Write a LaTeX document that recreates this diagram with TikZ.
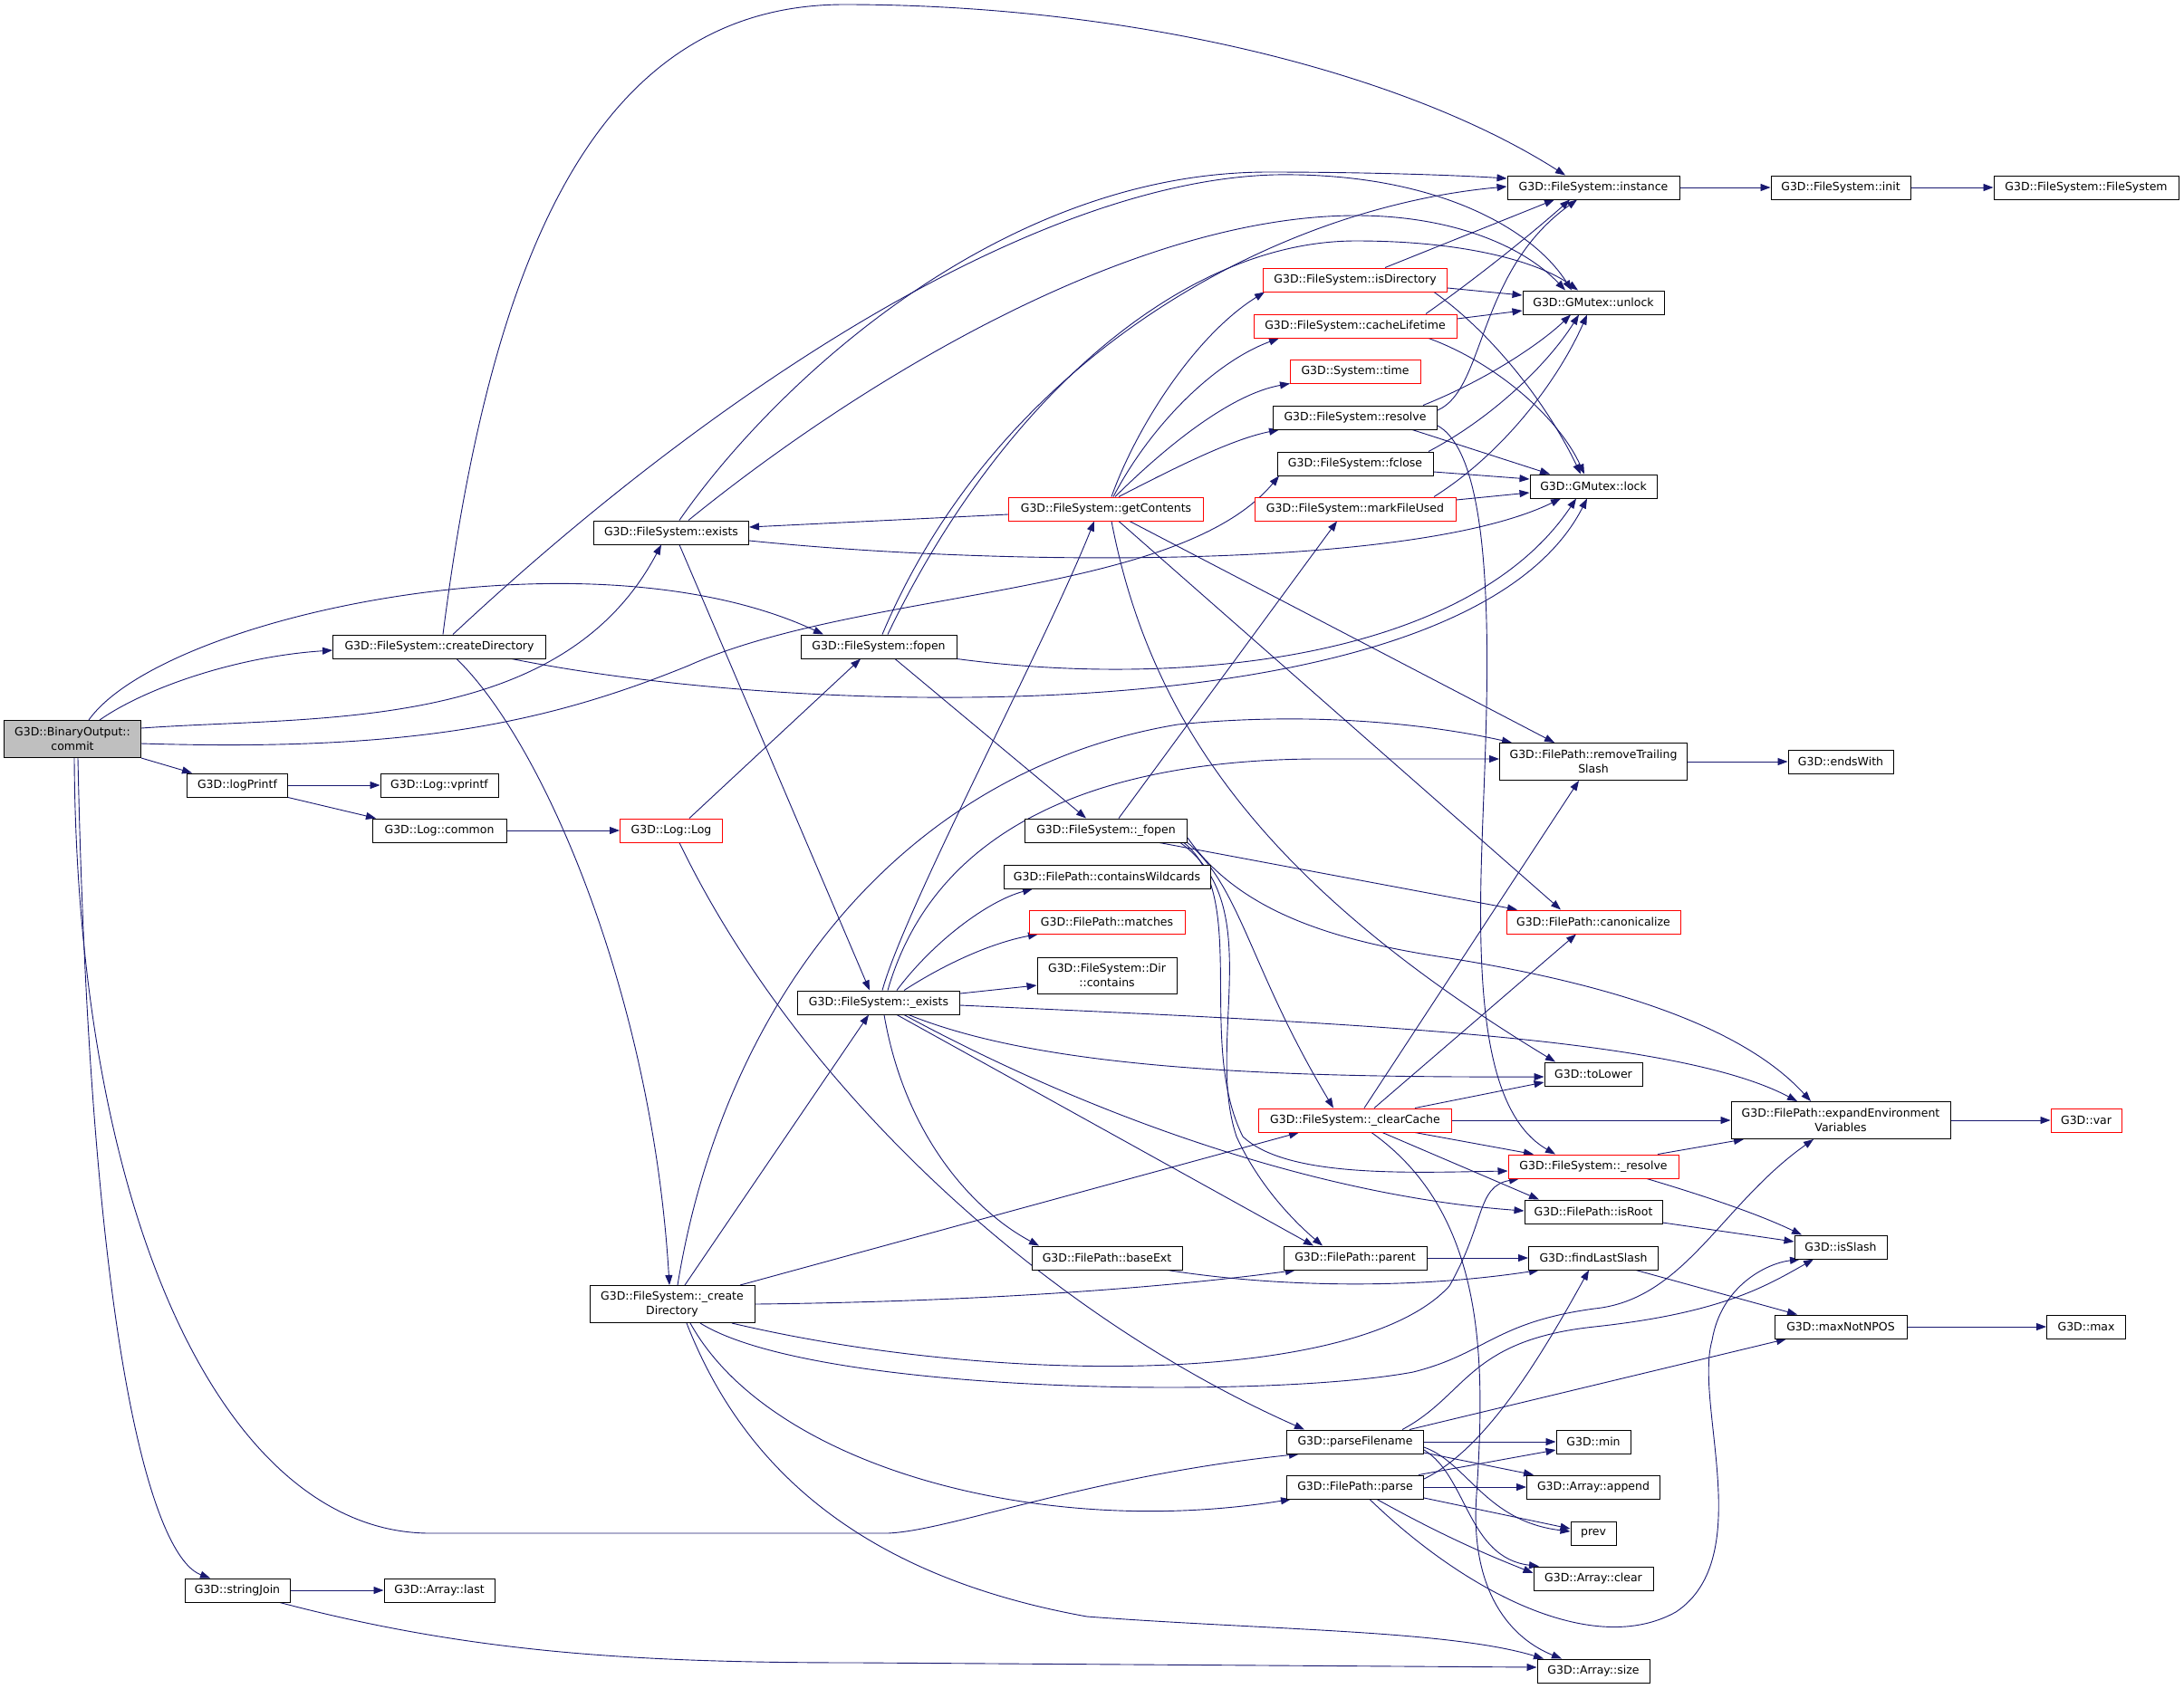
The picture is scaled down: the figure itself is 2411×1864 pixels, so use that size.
\documentclass[tikz,border=0pt]{standalone}
\usepackage{fontspec}
\setmainfont{DejaVu Sans}
\usetikzlibrary{arrows.meta,backgrounds}
\definecolor{edgeblue}{RGB}{25,25,112}
\definecolor{rootgray}{RGB}{191,191,191}
\tikzset{%
  fnode/.style = {shape=rectangle, draw=black, line width=1pt,%
                  minimum height=26pt, inner sep=0pt, align=center,%
                  fill=white, font=\fontsize{12.5}{15.5}\selectfont},%
  trunc/.style = {fnode, draw=red},%
  tall/.style  = {fnode, minimum height=41pt},%
  root/.style  = {tall, fill=rootgray},%
  call/.style  = {draw=edgeblue, line width=0.9pt,%
                  -{Triangle[length=11pt,width=8pt]}}%
}
\begin{document}
\begin{tikzpicture}[x=1pt, y=-1pt]
\useasboundingbox (0,0) rectangle (2411,1864);
% functions
\node[root,  minimum width=151] (commit)        at (80,816)    {G3D::BinaryOutput::\\commit};
\node[fnode, minimum width=235] (createDir)     at (485,714)   {G3D::FileSystem::createDirectory};
\node[fnode, minimum width=111] (logPrintf)     at (262,867)   {G3D::logPrintf};
\node[fnode, minimum width=130] (vprintf)       at (485,867)   {G3D::Log::vprintf};
\node[fnode, minimum width=148] (common)        at (485,917)   {G3D::Log::common};
\node[trunc, minimum width=113] (LogLog)        at (741,917)   {G3D::Log::Log};
\node[fnode, minimum width=116] (stringJoin)    at (262,1756)  {G3D::stringJoin};
\node[fnode, minimum width=122] (arrlast)       at (485,1756)  {G3D::Array::last};
\node[fnode, minimum width=171] (exists)        at (741,588)   {G3D::FileSystem::exists};
\node[fnode, minimum width=172] (fopen)         at (970,714)   {G3D::FileSystem::fopen};
\node[fnode, minimum width=179] (uexists)       at (970,1107)  {G3D::FileSystem::\_exists};
\node[tall,  minimum width=182] (ucreateDir)    at (742,1440)  {G3D::FileSystem::\_create\\Directory};
\node[trunc, minimum width=215] (getContents)   at (1221,562)  {G3D::FileSystem::getContents};
\node[trunc, minimum width=203] (isDirectory)   at (1496,309)  {G3D::FileSystem::isDirectory};
\node[trunc, minimum width=224] (cacheLifetime) at (1496,360)  {G3D::FileSystem::cacheLifetime};
\node[trunc, minimum width=144] (systime)       at (1496,410)  {G3D::System::time};
\node[fnode, minimum width=181] (resolve)       at (1496,461)  {G3D::FileSystem::resolve};
\node[fnode, minimum width=172] (fclose)        at (1496,512)  {G3D::FileSystem::fclose};
\node[trunc, minimum width=222] (markFileUsed)  at (1496,562)  {G3D::FileSystem::markFileUsed};
\node[fnode, minimum width=190] (instance)      at (1759,207)  {G3D::FileSystem::instance};
\node[fnode, minimum width=156] (unlock)        at (1759,334)  {G3D::GMutex::unlock};
\node[fnode, minimum width=140] (lock)          at (1759,537)  {G3D::GMutex::lock};
\node[fnode, minimum width=154] (init)          at (2032,207)  {G3D::FileSystem::init};
\node[fnode, minimum width=204] (fsctor)        at (2303,207)  {G3D::FileSystem::FileSystem};
\node[fnode, minimum width=179] (ufopen)        at (1221,917)  {G3D::FileSystem::\_fopen};
\node[fnode, minimum width=228] (containsWild)  at (1222,968)  {G3D::FilePath::containsWildcards};
\node[trunc, minimum width=172] (matches)       at (1222,1018) {G3D::FilePath::matches};
\node[fnode, minimum width=154, minimum height=40] (dirContains) at (1222,1077) {G3D::FileSystem::Dir\\::contains};
\node[tall,  minimum width=207] (trailing)      at (1759,841)  {G3D::FilePath::removeTrailing\\Slash};
\node[fnode, minimum width=116] (endsWith)      at (2032,841)  {G3D::endsWith};
\node[trunc, minimum width=192] (canonicalize)  at (1759,1018) {G3D::FilePath::canonicalize};
\node[fnode, minimum width=108] (toLower)       at (1759,1186) {G3D::toLower};
\node[trunc, minimum width=213] (uclearCache)   at (1496,1237) {G3D::FileSystem::\_clearCache};
\node[tall,  minimum width=242] (expandEnv)     at (2032,1237) {G3D::FilePath::expandEnvironment\\Variables};
\node[trunc, minimum width=78]  (var)           at (2303,1237) {G3D::var};
\node[trunc, minimum width=188] (uresolve)      at (1759,1288) {G3D::FileSystem::\_resolve};
\node[fnode, minimum width=152] (isRoot)        at (1759,1338) {G3D::FilePath::isRoot};
\node[fnode, minimum width=102] (isSlash)       at (2032,1377) {G3D::isSlash};
\node[fnode, minimum width=166] (baseExt)       at (1222,1389) {G3D::FilePath::baseExt};
\node[fnode, minimum width=158] (parent)        at (1496,1389) {G3D::FilePath::parent};
\node[fnode, minimum width=143] (findLastSlash) at (1759,1389) {G3D::findLastSlash};
\node[fnode, minimum width=146] (maxNotNPOS)    at (2032,1465) {G3D::maxNotNPOS};
\node[fnode, minimum width=87]  (max)           at (2303,1465) {G3D::max};
\node[fnode, minimum width=151] (parseFilename) at (1496,1592) {G3D::parseFilename};
\node[fnode, minimum width=151] (parse)         at (1496,1642) {G3D::FilePath::parse};
\node[fnode, minimum width=82]  (min)           at (1759,1592) {G3D::min};
\node[fnode, minimum width=147] (append)        at (1759,1642) {G3D::Array::append};
\node[fnode, minimum width=50]  (prev)          at (1759,1693) {prev};
\node[fnode, minimum width=132] (clear)         at (1759,1743) {G3D::Array::clear};
\node[fnode, minimum width=124] (size)          at (1759,1845) {G3D::Array::size};
\begin{scope}[on background layer]
% commit
\draw[call] ([xshift=30pt]commit.north) .. controls (160,760) and (260,725) .. ([yshift=-4pt]createDir.west);
\draw[call] ([xshift=18pt]commit.north) .. controls (180,680) and (650,580) .. ([xshift=-61pt]fopen.north);
\draw[call] ([yshift=12pt]commit.east) .. controls (350,790) and (620,810) .. ([xshift=-11pt]exists.south);
\draw[call] ([yshift=-5pt]commit.east) .. controls (450,830) and (600,800) .. (760,735) .. controls (950,650) and (1300,660) .. ([xshift=-84pt]fclose.south);
\draw[call] (commit.south east) -- ([xshift=-50pt]logPrintf.north);
\draw[call] ([xshift=2pt]commit.south) .. controls (85,1350) and (250,1693) .. (475,1693) -- (980,1693) .. controls (1050,1690) and (1200,1630) .. ([xshift=-62pt]parseFilename.south);
\draw[call] ([xshift=6pt]commit.south) .. controls (100,1500) and (170,1720) .. ([xshift=-30pt]stringJoin.north);
% createDirectory
\draw[call] ([xshift=4pt]createDir.north) .. controls (540,300) and (650,5) .. (932,5) .. controls (1250,5) and (1550,80) .. ([xshift=-31pt]instance.north);
\draw[call] ([xshift=15pt]createDir.north) .. controls (800,420) and (1150,200) .. (1407,193) .. controls (1580,190) and (1690,250) .. ([xshift=-24pt]unlock.north);
\draw[call] ([xshift=80pt]createDir.south) .. controls (900,795) and (1620,810) .. ([xshift=-7pt]lock.south);
\draw[call] ([xshift=19pt]createDir.south) .. controls (600,820) and (720,1100) .. ([xshift=-3pt]ucreateDir.north);
% exists
\draw[call] ([xshift=9pt]exists.north) .. controls (850,430) and (1100,190) .. (1400,190) .. controls (1500,190) and (1600,193) .. ([yshift=10pt]instance.west);
\draw[call] ([xshift=19pt]exists.north) .. controls (950,420) and (1250,238) .. (1497,238) .. controls (1600,238) and (1680,270) .. ([xshift=-31pt]unlock.north);
\draw[call] ([yshift=-9pt]exists.east) .. controls (1100,625) and (1560,630) .. ([xshift=-36pt]lock.south);
\draw[call] ([xshift=9pt]exists.south) -- ([xshift=-10pt]uexists.north);
% fopen
\draw[call] ([xshift=4pt]fopen.north) .. controls (1100,400) and (1400,230) .. ([yshift=1pt]instance.west);
\draw[call] ([xshift=10pt]fopen.north) .. controls (1100,450) and (1300,266) .. (1497,266) .. controls (1620,266) and (1700,290) .. ([xshift=-17pt]unlock.north);
\draw[call] (fopen.south east) .. controls (1300,760) and (1620,730) .. ([xshift=-19pt]lock.south);
\draw[call] ([xshift=18pt]fopen.south) -- ([xshift=-22pt]ufopen.north);
% logging
\draw[call] (logPrintf) -- (vprintf);
\draw[call] (logPrintf.south east) -- ([xshift=-70pt]common.north);
\draw[call] (common) -- (LogLog);
\draw[call] ([xshift=20pt]LogLog.north) -- ([xshift=-20pt]fopen.south);
\draw[call] ([xshift=9pt]LogLog.south) .. controls (880,1200) and (1150,1450) .. ([xshift=-56pt]parseFilename.north);
\draw[call] (stringJoin) -- (arrlast);
\draw[call] ([xshift=47pt]stringJoin.south) .. controls (520,1825) and (700,1836) .. (950,1836) -- ([yshift=4pt]size.west);
% getContents
\draw[call] ([yshift=-6pt]getContents.west) -- ([yshift=6pt]exists.east);
\draw[call] ([xshift=6pt]getContents.north) .. controls (1255,470) and (1320,370) .. ([xshift=-100pt]isDirectory.south);
\draw[call] ([xshift=8pt]getContents.north) .. controls (1270,470) and (1340,400) .. ([xshift=-84pt]cacheLifetime.south);
\draw[call] ([xshift=10pt]getContents.north) .. controls (1290,490) and (1360,435) .. ([xshift=-72pt]systime.south);
\draw[call] ([xshift=14pt]getContents.north) .. controls (1300,515) and (1360,485) .. ([xshift=-84pt]resolve.south);
\draw[call] ([xshift=26pt]getContents.south) -- ([xshift=-43pt]trailing.north);
\draw[call] ([xshift=14pt]getContents.south) -- ([xshift=-36pt]canonicalize.north);
\draw[call] ([xshift=6pt]getContents.south) .. controls (1270,800) and (1400,980) .. ([xshift=-42pt]toLower.north);
% mutex users
\draw[call] ([xshift=33pt]isDirectory.north) -- ([xshift=-43pt]instance.south);
\draw[call] ([yshift=-9pt]isDirectory.east) -- ([yshift=8pt]unlock.west);
\draw[call] ([xshift=87pt]isDirectory.south) .. controls (1650,370) and (1710,450) .. ([xshift=-14pt]lock.north);
\draw[call] ([xshift=78pt]cacheLifetime.north) .. controls (1640,300) and (1700,250) .. ([xshift=-26pt]instance.south);
\draw[call] ([yshift=8pt]cacheLifetime.east) -- ([yshift=-9pt]unlock.west);
\draw[call] ([xshift=81pt]cacheLifetime.south) .. controls (1650,400) and (1720,460) .. ([xshift=-10pt]lock.north);
\draw[call] ([yshift=8pt]resolve.east) .. controls (1640,430) and (1630,300) .. ([xshift=-18pt]instance.south);
\draw[call] ([xshift=75pt]resolve.north) .. controls (1640,420) and (1700,380) .. ([xshift=-25pt]unlock.south);
\draw[call] ([xshift=63pt]resolve.south) -- ([xshift=-48pt]lock.north);
\draw[call] ([yshift=-9pt]resolve.east) .. controls (1660,510) and (1640,800) .. (1636,932) .. controls (1630,1100) and (1640,1230) .. ([xshift=-42pt]uresolve.north);
\draw[call] ([xshift=81pt]fclose.north) .. controls (1650,460) and (1710,400) .. ([xshift=-16pt]unlock.south);
\draw[call] ([yshift=-9pt]fclose.east) -- ([yshift=8pt]lock.west);
\draw[call] ([xshift=87pt]markFileUsed.north) .. controls (1660,500) and (1720,420) .. ([xshift=-7pt]unlock.south);
\draw[call] ([yshift=10pt]markFileUsed.east) -- ([yshift=-7pt]lock.west);
% chains to the right
\draw[call] (instance) -- (init);
\draw[call] (init) -- (fsctor);
\draw[call] (trailing) -- (endsWith);
\draw[call] (expandEnv) -- (var);
\draw[call] (maxNotNPOS) -- (max);
% _fopen
\draw[call] ([xshift=14pt]ufopen.north) -- ([xshift=-20pt]markFileUsed.south);
\draw[call] ([xshift=59pt]ufopen.south) -- ([xshift=-84pt]canonicalize.north);
\draw[call] ([yshift=-8pt]ufopen.east) .. controls (1370,1010) and (1480,1040) .. (1600,1058) .. controls (1800,1090) and (1930,1140) .. ([xshift=-33pt]expandEnv.north);
\draw[call] (ufopen.south east) .. controls (1370,980) and (1380,1070) .. ([xshift=-24pt]uclearCache.north);
\draw[call] ([xshift=-4pt]ufopen.south east) .. controls (1380,990) and (1320,1150) .. (1372,1255) .. controls (1420,1300) and (1550,1295) .. ([yshift=-5pt]uresolve.west);
\draw[call] ([xshift=-8pt]ufopen.south east) .. controls (1400,1000) and (1330,1150) .. (1365,1255) .. controls (1390,1310) and (1430,1350) .. ([xshift=-36pt]parent.north);
% _exists
\draw[call] ([xshift=4pt]uexists.north) .. controls (1000,1000) and (1150,720) .. ([xshift=-13pt]getContents.south);
\draw[call] ([xshift=10pt]uexists.north) .. controls (1030,920) and (1200,840) .. (1450,838) -- ([yshift=3pt]trailing.west);
\draw[call] ([xshift=20pt]uexists.north) .. controls (1030,1040) and (1090,995) .. ([xshift=-82pt]containsWild.south);
\draw[call] ([xshift=28pt]uexists.north) .. controls (1050,1060) and (1100,1040) .. ([xshift=-76pt]matches.south);
\draw[call] ([yshift=10pt]uexists.east) -- ([yshift=-11pt]dirContains.west);
\draw[call] ([yshift=-3pt]uexists.east) .. controls (1500,1130) and (1850,1145) .. ([xshift=-48pt]expandEnv.north);
\draw[call] ([xshift=33pt]uexists.south) .. controls (1150,1180) and (1400,1190) .. ([yshift=-3pt]toLower.west);
\draw[call] ([xshift=28pt]uexists.south) .. controls (1200,1230) and (1450,1320) .. ([yshift=1pt]isRoot.west);
\draw[call] ([xshift=20pt]uexists.south) -- ([xshift=-46pt]parent.north);
\draw[call] ([xshift=6pt]uexists.south) .. controls (1000,1260) and (1080,1340) .. ([xshift=-75pt]baseExt.north);
% _createDirectory
\draw[call] ([xshift=6pt]ucreateDir.north) .. controls (800,1100) and (1000,850) .. (1300,800) .. controls (1450,785) and (1580,800) .. ([xshift=-90pt]trailing.north);
\draw[call] ([xshift=14pt]ucreateDir.north) -- ([xshift=-11pt]uexists.south);
\draw[call] ([xshift=75pt]ucreateDir.north) -- ([xshift=-62pt]uclearCache.south);
\draw[call] (ucreateDir.east) .. controls (1100,1437) and (1300,1420) .. ([xshift=-66pt]parent.south);
\draw[call] ([xshift=66pt]ucreateDir.south) .. controls (1100,1530) and (1500,1530) .. (1600,1420) .. controls (1640,1350) and (1630,1310) .. ([xshift=-82pt]uresolve.south);
\draw[call] ([xshift=31pt]ucreateDir.south) .. controls (900,1540) and (1400,1545) .. (1560,1515) .. controls (1640,1495) and (1650,1460) .. (1760,1445) .. controls (1860,1435) and (1900,1330) .. ([xshift=-30pt]expandEnv.south);
\draw[call] ([xshift=20pt]ucreateDir.south) .. controls (850,1620) and (1150,1700) .. ([xshift=-71pt]parse.south);
\draw[call] ([xshift=16pt]ucreateDir.south) .. controls (820,1620) and (950,1740) .. (1200,1785) .. controls (1400,1800) and (1600,1800) .. ([xshift=-55pt]size.north);
% _clearCache
\draw[call] ([xshift=10pt]uclearCache.north) -- ([xshift=-16pt]trailing.south);
\draw[call] ([xshift=21pt]uclearCache.north) -- ([xshift=-19pt]canonicalize.south);
\draw[call] ([xshift=66pt]uclearCache.north) -- ([yshift=-9pt]toLower.west);
\draw[call] (uclearCache) -- (expandEnv);
\draw[call] ([xshift=66pt]uclearCache.south) -- ([xshift=-66pt]uresolve.north);
\draw[call] ([xshift=30pt]uclearCache.south) -- ([xshift=-60pt]isRoot.north);
\draw[call] ([xshift=18pt]uclearCache.south) .. controls (1640,1340) and (1640,1500) .. (1630,1650) .. controls (1622,1760) and (1670,1810) .. ([xshift=-35pt]size.north);
% path helpers
\draw[call] ([xshift=71pt]uresolve.north) -- ([xshift=-107pt]expandEnv.south);
\draw[call] ([xshift=59pt]uresolve.south) .. controls (1880,1320) and (1940,1340) .. ([xshift=-43pt]isSlash.north);
\draw[call] ([yshift=-12pt]isRoot.east) -- ([yshift=6pt]isSlash.west);
\draw[call] (parent) -- (findLastSlash);
\draw[call] ([xshift=67pt]baseExt.south) .. controls (1400,1420) and (1550,1425) .. ([xshift=-60pt]findLastSlash.south);
\draw[call] ([xshift=47pt]findLastSlash.south) -- ([xshift=-48pt]maxNotNPOS.north);
% parsing
\draw[call] (parseFilename) -- (min);
\draw[call] ([yshift=-12pt]parseFilename.east) -- ([xshift=-66pt]append.north);
\draw[call] ([yshift=-6pt]parseFilename.east) .. controls (1620,1615) and (1640,1680) .. ([yshift=2pt]prev.west);
\draw[call] ([yshift=-9pt]parseFilename.east) .. controls (1620,1630) and (1620,1720) .. ([xshift=-60pt]clear.north);
\draw[call] ([xshift=52pt]parseFilename.north) .. controls (1620,1540) and (1620,1480) .. (1760,1465) .. controls (1900,1450) and (1950,1420) .. ([xshift=-30pt]isSlash.south);
\draw[call] ([xshift=60pt]parseFilename.north) -- ([xshift=-60pt]maxNotNPOS.south);
\draw[call] ([yshift=9pt]parse.east) .. controls (1640,1600) and (1700,1500) .. ([xshift=-5pt]findLastSlash.south);
\draw[call] ([xshift=70pt]parse.north) -- ([yshift=-9pt]min.west);
\draw[call] (parse) -- (append);
\draw[call] ([yshift=-12pt]parse.east) -- ([yshift=5pt]prev.west);
\draw[call] ([xshift=24pt]parse.south) .. controls (1600,1700) and (1650,1720) .. ([yshift=6pt]clear.west);
\draw[call] ([xshift=16pt]parse.south) .. controls (1620,1760) and (1760,1830) .. (1850,1780) .. controls (1940,1720) and (1870,1550) .. (1890,1480) .. controls (1900,1420) and (1950,1395) .. ([xshift=-45pt]isSlash.south);
\end{scope}
\end{tikzpicture}
\end{document}
